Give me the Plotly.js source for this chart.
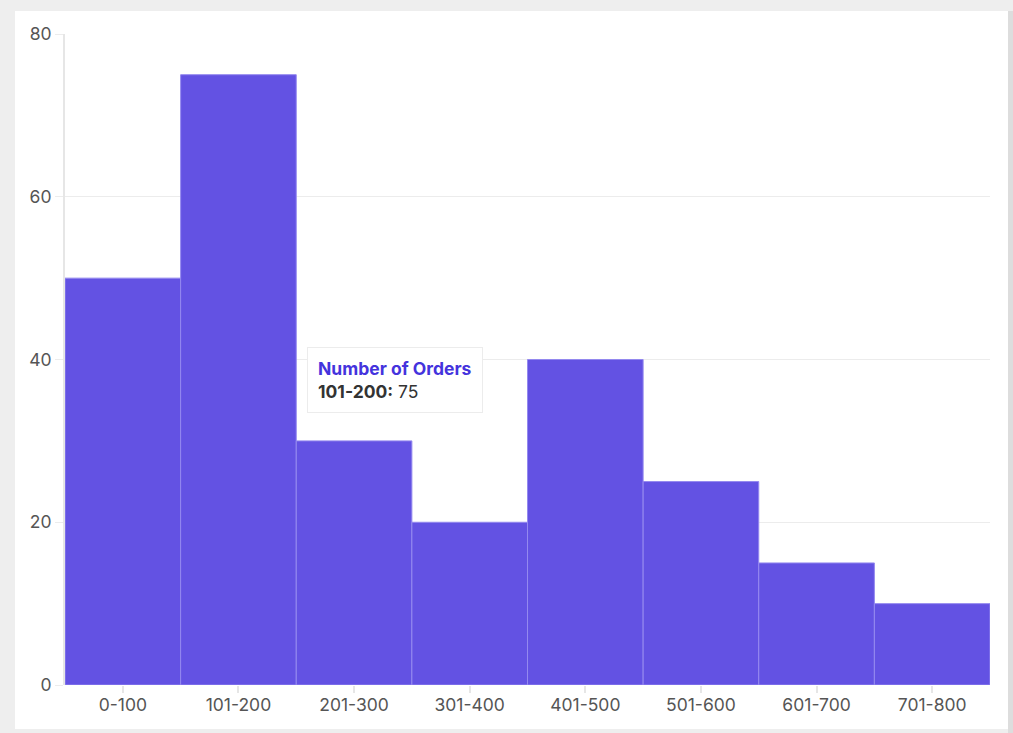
<!DOCTYPE html>
<html>
<head>
<meta charset="utf-8">
<script src="https://cdn.plot.ly/plotly-3.0.1.min.js"></script>
<style>
  html, body { margin:0; padding:0; background:#eeeeee; width:1013px; height:733px; overflow:hidden; }
  #panel { position:absolute; left:15px; top:11px; width:993px; height:718px; background:#fff; }
  #strip { position:absolute; left:1008px; top:11px; width:5px; height:722px; background:#dddddd; }
  #chart { width:993px; height:718px; }
</style>
</head>
<body>
<div id="panel"><div id="chart"></div></div>
<div id="strip"></div>
<script>
// tranches de montant et nombre de commandes
const ranges = ['0-100','101-200','201-300','301-400','401-500','501-600','601-700','701-800'];
const orders = [50, 75, 30, 20, 40, 25, 15, 10];
const yTicks = [0, 20, 40, 60, 80];

const hoverIdx = 1; // barre survolée dans la capture

const trace = {
  type:'bar',
  x: ranges,
  y: orders,
  name:'Number of Orders',
  marker:{color:'#6352e3', line:{color:'#9489ef', width:1}},
  hoverinfo:'skip'
};

const font = {family:'Inter, "Noto Sans", sans-serif', size:17.5, color:'#555'};

const layout = {
  width:993, height:718,
  margin:{l:50, r:18, t:23, b:44},
  paper_bgcolor:'#fff',
  plot_bgcolor:'#fff',
  font: font,
  bargap:0,
  showlegend:false,
  xaxis:{
    type:'category',
    range:[-0.5, ranges.length-0.5],
    showgrid:false, zeroline:false,
    ticks:'outside', ticklen:7, tickcolor:'#e6e6e6', tickwidth:2,
    ticklabelstandoff:-3,
    tickfont:font, fixedrange:true
  },
  yaxis:{
    range:[0, 80],
    tickvals:yTicks,
    showgrid:true, gridcolor:'#ececec', gridwidth:1,
    zeroline:false,
    showline:true, linecolor:'#e6e6e6', linewidth:2,
    ticks:'outside', ticklen:8, tickcolor:'#ececec',
    tickfont:font, fixedrange:true
  },
  annotations:[{
    xref:'x', yref:'y',
    x: hoverIdx + 0.5, y: 37.5,
    xanchor:'left', yanchor:'middle', xshift:11,
    align:'left', showarrow:false,
    bgcolor:'#ffffff', bordercolor:'#ececec', borderwidth:1, borderpad:10,
    text:'<b><span style="color:#4433dd">Number of Orders</span></b><br>' +
         '<span style="color:#333"><b>' + ranges[hoverIdx] + ':</b> ' + orders[hoverIdx] + '</span>',
    font:{family:'Inter, "Noto Sans", sans-serif', size:17.5, color:'#333'}
  }],
  shapes:[{
    type:'path', layer:'above',
    xref:'x', yref:'y',
    xsizemode:'pixel', ysizemode:'pixel',
    xanchor: hoverIdx + 0.5, yanchor: 37.85,
    path:'M 1,0 L 12,9 L 12,-9 Z',
    fillcolor:'#ffffff', line:{width:0}
  }]
};

Plotly.newPlot('chart', [trace], layout, {displayModeBar:false, staticPlot:true});
</script>
</body>
</html>
